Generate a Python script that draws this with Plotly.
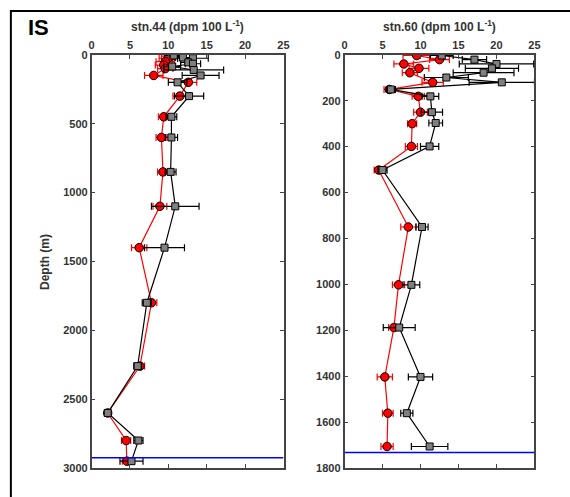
import plotly.graph_objects as go

# stn.44 data
d44_red = [10, 25, 50, 75, 100, 150, 200, 300, 450, 600, 850, 1100, 1400, 1800, 2260, 2600, 2800, 2950]
v44_red = [10.4, 10.0, 9.6, 9.4, 9.6, 8.1, 12.6, 11.5, 9.4, 9.1, 9.3, 8.9, 6.2, 7.8, 6.3, 2.1, 4.5, 4.6]
e44_red = [1.3, 1.2, 1.2, 1.1, 1.0, 1.2, 1.1, 0.9, 0.7, 0.7, 0.7, 0.9, 1.0, 0.7, 0.6, 0.4, 0.6, 0.6]

d44_gray = [5, 20, 25, 55, 65, 85, 110, 150, 200, 300, 450, 600, 850, 1100, 1400, 1800, 2260, 2600, 2800, 2950]
v44_gray = [10.7, 11.9, 13.2, 12.6, 13.2, 10.5, 13.3, 14.2, 11.2, 12.7, 10.4, 10.4, 10.3, 10.9, 9.5, 7.2, 6.0, 2.1, 6.1, 5.2]
e44_gray = [1.2, 1.0, 2.0, 1.0, 1.0, 1.1, 3.9, 2.4, 1.2, 1.9, 0.7, 0.8, 0.7, 3.1, 2.6, 0.6, 0.5, 0.4, 0.6, 1.5]

# stn.60 data
d60_red = [3, 21, 40, 59, 78, 120, 151, 181, 250, 300, 399, 502, 750, 1002, 1188, 1403, 1561, 1706]
v60_red = [9.5, 12.5, 7.8, 9.8, 8.6, 11.6, 5.9, 9.7, 10.0, 8.9, 8.8, 4.5, 8.4, 7.1, 6.5, 5.3, 5.7, 5.6]
e60_red = [1.8, 1.3, 1.3, 1.3, 1.0, 1.4, 0.7, 0.8, 0.9, 0.6, 0.8, 0.6, 1.0, 0.8, 0.7, 1.0, 0.7, 0.8]

d60_gray = [3, 21, 40, 59, 78, 99, 120, 151, 181, 250, 297, 399, 502, 750, 1002, 1188, 1403, 1561, 1706]
v60_gray = [12.8, 17.1, 20.0, 19.4, 18.3, 13.4, 20.7, 6.1, 11.3, 11.5, 12.0, 11.2, 5.0, 10.2, 8.8, 7.2, 10.0, 8.2, 11.2]
e60_gray = [1.5, 1.6, 4.9, 3.5, 4.0, 2.9, 4.3, 0.6, 1.1, 1.4, 0.9, 1.2, 0.6, 0.8, 1.1, 2.1, 1.6, 0.8, 2.4]

bottom44 = 2925
bottom60 = 1732

x_ticks = [0, 5, 10, 15, 20, 25]
y44_ticks = [0, 500, 1000, 1500, 2000, 2500, 3000]
y60_ticks = [0, 200, 400, 600, 800, 1000, 1200, 1400, 1600, 1800]

FONT = "Liberation Sans"
TXT = "#333333"
AX = "#444444"

fig = go.Figure()


def add_series(x, y, e, color, symbol, size, xa, ya):
    lc = "red" if color == "red" else "black"
    fig.add_trace(go.Scatter(
        x=x, y=y, xaxis=xa, yaxis=ya, mode="lines+markers",
        line=dict(color=lc, width=1.2),
        marker=dict(symbol=symbol, size=size,
                    color=color, line=dict(color="black", width=1)),
        error_x=dict(type="data", array=e, visible=True,
                     color=lc, thickness=1.2, width=3.5),
        showlegend=False, cliponaxis=True))


add_series(v44_red, d44_red, e44_red, "red", "circle", 8.5, "x", "y")
add_series(v44_gray, d44_gray, e44_gray, "#808080", "square", 7, "x", "y")
add_series(v60_red, d60_red, e60_red, "red", "circle", 8.5, "x2", "y2")
add_series(v60_gray, d60_gray, e60_gray, "#808080", "square", 7, "x2", "y2")

W, H = 570, 497
ytop = 1 - 50 / H
ybot = 1 - 473.5 / H

axis_common = dict(showline=True, linecolor=AX, linewidth=1.5, mirror="ticks",
                   ticks="inside", ticklen=4, tickcolor=AX, tickwidth=1,
                   showgrid=False, zeroline=False,
                   tickfont=dict(family=FONT, size=11, color=TXT, weight="bold"))

fig.update_layout(
    width=W, height=H,
    margin=dict(l=0, r=0, t=0, b=0),
    paper_bgcolor="white", plot_bgcolor="white",
    xaxis=dict(domain=[90 / W, 285 / W], range=[0, 25], side="top",
               tickvals=x_ticks, anchor="y", **axis_common),
    yaxis=dict(domain=[ybot, ytop], range=[3000, 0], tickvals=y44_ticks,
               anchor="x", **axis_common),
    xaxis2=dict(domain=[347 / W, 540 / W], range=[0, 25], side="top",
                tickvals=x_ticks, anchor="y2", **axis_common),
    yaxis2=dict(domain=[ybot, ytop], range=[1800, 0], tickvals=y60_ticks,
                anchor="x2", **axis_common),
    shapes=[
        dict(type="line", xref="x", yref="y", x0=0, x1=25, y0=bottom44, y1=bottom44,
             line=dict(color="blue", width=1.5)),
        dict(type="line", xref="x2", yref="y2", x0=0, x1=25, y0=bottom60, y1=bottom60,
             line=dict(color="blue", width=1.5)),
        dict(type="rect", xref="paper", yref="paper", x0=8 / W, x1=1.05,
             y0=-0.05, y1=1 - 5 / H, line=dict(color="black", width=2)),
    ],
    annotations=[
        dict(text="<b>IS</b>", xref="paper", yref="paper", x=36 / W, y=1 - 22 / H,
             showarrow=False, font=dict(family=FONT, size=22, color="black"),
             xanchor="center", yanchor="middle"),
        dict(text="<b>stn.44 (dpm 100 L<sup>-1</sup>)</b>", xref="paper", yref="paper",
             x=187 / W, y=1 - 20 / H, showarrow=False,
             font=dict(family=FONT, size=12, color=TXT), xanchor="center", yanchor="middle"),
        dict(text="<b>stn.60 (dpm 100 L<sup>-1</sup>)</b>", xref="paper", yref="paper",
             x=443 / W, y=1 - 20 / H, showarrow=False,
             font=dict(family=FONT, size=12, color=TXT), xanchor="center", yanchor="middle"),
        dict(text="<b>Depth (m)</b>", xref="paper", yref="paper",
             x=42 / W, y=1 - 262 / H, showarrow=False, textangle=-90,
             font=dict(family=FONT, size=12, color=TXT), xanchor="center", yanchor="middle"),
    ],
)

fig.write_html("out.html")
